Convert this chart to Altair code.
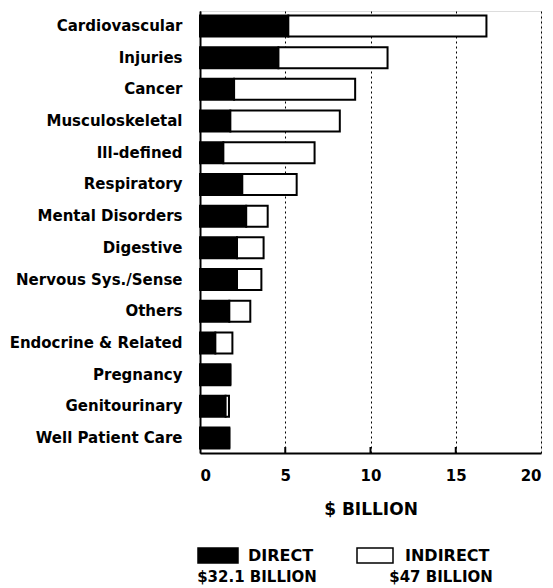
import altair as alt
import pandas as pd

categories = ["Cardiovascular", "Injuries", "Cancer", "Musculoskeletal", "Ill-defined",
              "Respiratory", "Mental Disorders", "Digestive", "Nervous Sys./Sense", "Others",
              "Endocrine & Related", "Pregnancy", "Genitourinary", "Well Patient Care"]
direct = [5.18, 4.6, 2.0, 1.78, 1.37, 2.48, 2.71, 2.17, 2.17, 1.72, 0.9, 1.78, 1.5, 1.72]
indirect = [11.62, 6.4, 7.1, 6.42, 5.35, 3.19, 1.26, 1.56, 1.43, 1.23, 1.0, 0.0, 0.2, 0.0]
x_ticks = [0, 5, 10, 15, 20]
inner_ticks = [5, 10, 15]
legend_names = ["DIRECT", "INDIRECT"]
legend_totals = ["$32.1 BILLION", "$47 BILLION"]

FONT = "DejaVu Sans"
W, H = 341, 442

rows = []
for c, d, i in zip(categories, direct, indirect):
    rows.append({"category": c, "series": "Direct", "start": 0.0, "end": d})
    rows.append({"category": c, "series": "Indirect", "start": d, "end": d + i})
bars_df = pd.DataFrame(rows)

xscale = alt.Scale(domain=[0, 20], nice=False, zero=True)
yscale = alt.Scale(paddingInner=0.337, paddingOuter=0.14)

bars = alt.Chart(bars_df).mark_bar(stroke="black", strokeWidth=2, strokeJoin="miter").encode(
    y=alt.Y("category:N", sort=categories, scale=yscale,
            axis=alt.Axis(title=None, ticks=False, labelPadding=18, labelFont=FONT,
                          labelFontSize=15, labelFontWeight="bold", labelColor="black",
                          domainColor="black", domainWidth=2, labelLimit=300)),
    x=alt.X("start:Q", scale=xscale,
            axis=alt.Axis(title="$ BILLION", values=x_ticks, ticks=False, labelPadding=15,
                          labelFont=FONT, labelFontSize=15, labelFontWeight="bold",
                          labelColor="black", titleFont=FONT, titleFontSize=17,
                          titleFontWeight="bold", titleColor="black", titlePadding=18,
                          domainColor="black", domainWidth=2, grid=True,
                          gridColor="black", gridDash=[2, 3], gridWidth=1, gridOpacity=1)),
    x2="end:Q",
    fill=alt.Fill("series:N", scale=alt.Scale(domain=["Direct", "Indirect"],
                                              range=["black", "white"]), legend=None),
)

ticks = alt.Chart(pd.DataFrame({"v": inner_ticks})).mark_rule(color="black", strokeWidth=2).encode(
    x=alt.X("v:Q", scale=xscale),
    y=alt.value(H),
    y2=alt.value(H - 6),
)

leg_df = pd.DataFrame({"name": legend_names, "total": legend_totals})
sw_black = alt.Chart(leg_df.iloc[[0]]).mark_rect(fill="black", stroke="black", strokeWidth=1.5).encode(
    x=alt.value(-2), x2=alt.value(38), y=alt.value(537), y2=alt.value(552))
sw_white = alt.Chart(leg_df.iloc[[1]]).mark_rect(fill="white", stroke="black", strokeWidth=1.5).encode(
    x=alt.value(157), x2=alt.value(193), y=alt.value(537), y2=alt.value(552))

txt_kw = dict(font=FONT, fontWeight="bold", color="black", baseline="middle")
t1 = alt.Chart(leg_df.iloc[[0]]).mark_text(align="left", fontSize=16, **txt_kw).encode(
    x=alt.value(48), y=alt.value(545), text="name:N")
t2 = alt.Chart(leg_df.iloc[[1]]).mark_text(align="left", fontSize=16, **txt_kw).encode(
    x=alt.value(205), y=alt.value(545), text="name:N")
t3 = alt.Chart(leg_df.iloc[[0]]).mark_text(align="center", fontSize=15, **txt_kw).encode(
    x=alt.value(57), y=alt.value(566), text="total:N")
t4 = alt.Chart(leg_df.iloc[[1]]).mark_text(align="center", fontSize=15, **txt_kw).encode(
    x=alt.value(241), y=alt.value(566), text="total:N")

chart = alt.layer(bars, ticks, sw_black, sw_white, t1, t2, t3, t4).properties(
    width=W, height=H,
    autosize=alt.AutoSizeParams(type="none"),
    padding={"left": 192, "top": 3, "right": 4, "bottom": 135},
).configure_view(stroke="black", strokeWidth=2).configure(background="white")

chart.save("out.html", embed_options={"renderer": "svg", "actions": False})
